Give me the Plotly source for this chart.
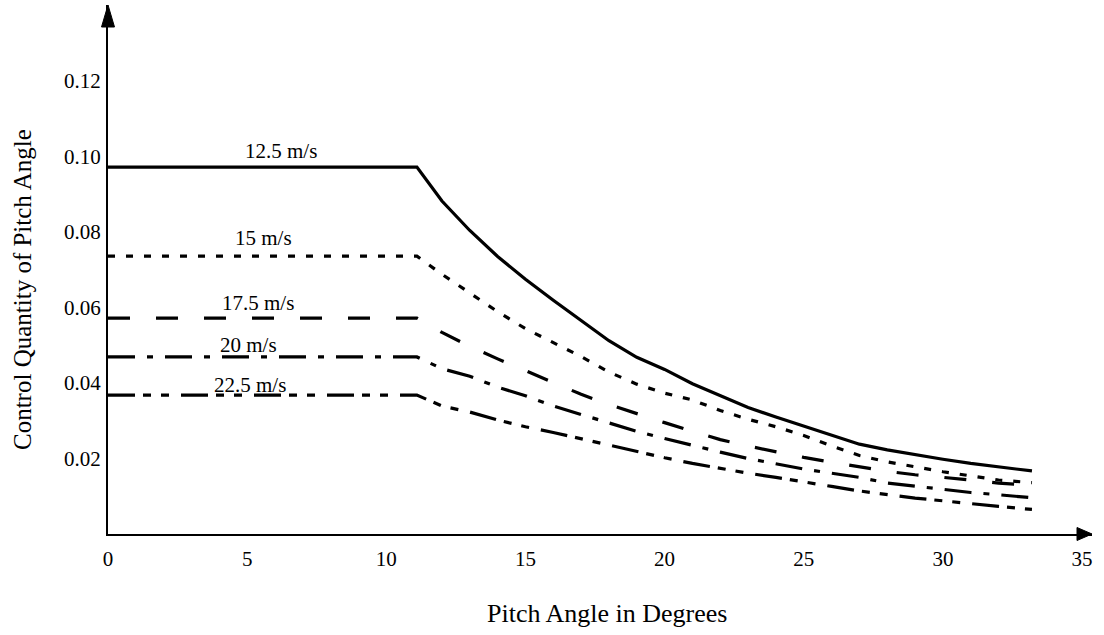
import plotly.graph_objects as go

# ---------------- data ----------------
pitch_angle = [0, 11.1, 12, 13, 14, 15, 16, 17, 18, 19, 20, 21, 22, 23, 24, 25,
               26, 27, 28, 29, 30, 31, 32, 33.2]

wind_speeds = ["12.5 m/s", "15 m/s", "17.5 m/s", "20 m/s", "22.5 m/s"]

ctrl_12_5 = [0.0972, 0.0972, 0.0882, 0.0804, 0.0735, 0.0675, 0.0619, 0.0565, 0.0512,
             0.0468, 0.0436, 0.0398, 0.0366, 0.0335, 0.0310, 0.0286, 0.0260, 0.0238,
             0.0223, 0.0210, 0.0198, 0.0187, 0.0177, 0.0167]
ctrl_15 = [0.0736, 0.0736, 0.0688, 0.0638, 0.0589, 0.0544, 0.0506, 0.0470, 0.0429,
           0.0397, 0.0373, 0.0355, 0.0327, 0.0304, 0.0284, 0.0261, 0.0233, 0.0208,
           0.0191, 0.0177, 0.0165, 0.0154, 0.0143, 0.0136]
ctrl_17_5 = [0.0572, 0.0572, 0.0534, 0.0497, 0.0464, 0.0432, 0.0401, 0.0370, 0.0343,
             0.0318, 0.0295, 0.0272, 0.0250, 0.0233, 0.0217, 0.0203, 0.0190, 0.0177,
             0.0166, 0.0157, 0.0151, 0.0143, 0.0135, 0.0129]
ctrl_20 = [0.0469, 0.0469, 0.0438, 0.0418, 0.0389, 0.0366, 0.0339, 0.0316, 0.0294,
           0.0272, 0.0253, 0.0234, 0.0217, 0.0200, 0.0185, 0.0172, 0.0161, 0.0150,
           0.0135, 0.0127, 0.0117, 0.0110, 0.0104, 0.0096]
ctrl_22_5 = [0.0368, 0.0368, 0.0339, 0.0323, 0.0302, 0.0284, 0.0269, 0.0252, 0.0234,
             0.0217, 0.0202, 0.0187, 0.0173, 0.0161, 0.0150, 0.0137, 0.0126, 0.0114,
             0.0104, 0.0095, 0.0088, 0.0080, 0.0073, 0.0065]

x_ticks = [0, 5, 10, 15, 20, 25, 30, 35]
y_ticks = [0.02, 0.04, 0.06, 0.08, 0.10, 0.12]
y_tick_labels = ["0.02", "0.04", "0.06", "0.08", "0.10", "0.12"]

# ---------------- styles ----------------
series = [ctrl_12_5, ctrl_15, ctrl_17_5, ctrl_20, ctrl_22_5]
dashes = ["solid", "7px,11px", "22px,26px", "27px,12px,6px,12px",
          "27px,8px,8px,10px,8px,12px"]
label_pos = [(6.2, 0.1015), (5.6, 0.0784), (5.4, 0.0612), (5.05, 0.0501), (5.1, 0.0395)]

FONT = "Liberation Serif, Times New Roman, serif"
W, H = 1104, 635
ML, MR, MT, MB = 108, 12, 5, 101
plot_w = W - ML - MR
plot_h = H - MT - MB
X_MAX = plot_w / 27.83
Y_MAX = plot_h / 3775.0

fig = go.Figure()
for ys, d in zip(series, dashes):
    fig.add_trace(go.Scatter(x=pitch_angle, y=ys, mode="lines",
                             line=dict(color="black", width=3.2, dash=d),
                             showlegend=False, hoverinfo="skip"))

annotations = []
for name, (lx, ly) in zip(wind_speeds, label_pos):
    annotations.append(dict(x=lx, y=ly, xref="x", yref="y", text=name, showarrow=False,
                            font=dict(family=FONT, size=21, color="black")))

annotations.append(dict(x=(607 - ML) / plot_w, y=(534 - 613) / plot_h, xref="paper",
                        yref="paper", text="Pitch Angle in Degrees", showarrow=False,
                        font=dict(family=FONT, size=26, color="black"),
                        xanchor="center", yanchor="middle"))
annotations.append(dict(x=(22 - ML) / plot_w, y=(534 - 290) / plot_h, xref="paper",
                        yref="paper", text="Control Quantity of Pitch Angle",
                        showarrow=False, textangle=-90,
                        font=dict(family=FONT, size=25, color="black"),
                        xanchor="center", yanchor="middle"))

# arrowheads on axes (decorative), sized in pixels
ah_len, ah_half = 15, 6.5
shapes = [
    dict(type="path", xref="paper", yref="paper",
         path=f"M 1 0 L {1 - ah_len / plot_w} {ah_half / plot_h} "
              f"L {1 - ah_len / plot_w} {-ah_half / plot_h} Z",
         fillcolor="black", line=dict(color="black", width=1)),
    dict(type="path", xref="paper", yref="paper",
         path=f"M 0 1 L {-ah_half / plot_w} {1 - (ah_len + 7) / plot_h} "
              f"L {ah_half / plot_w} {1 - (ah_len + 7) / plot_h} Z",
         fillcolor="black", line=dict(color="black", width=1)),
]

fig.update_layout(
    width=W, height=H,
    margin=dict(l=ML, r=MR, t=MT, b=MB, pad=0),
    paper_bgcolor="white", plot_bgcolor="white",
    font=dict(family=FONT, color="black"),
    annotations=annotations, shapes=shapes,
    xaxis=dict(range=[0, X_MAX], tickvals=x_ticks, showgrid=False, zeroline=False,
               showline=True, linecolor="black", linewidth=2,
               ticks="outside", ticklen=5, tickcolor="rgba(0,0,0,0)",
               tickfont=dict(family=FONT, size=21, color="black")),
    yaxis=dict(range=[0, Y_MAX], tickvals=y_ticks, ticktext=y_tick_labels,
               showgrid=False, zeroline=False,
               showline=True, linecolor="black", linewidth=2,
               ticks="outside", ticklen=1, tickcolor="rgba(0,0,0,0)",
               tickfont=dict(family=FONT, size=21, color="black")),
)

fig.write_html("out.html")
